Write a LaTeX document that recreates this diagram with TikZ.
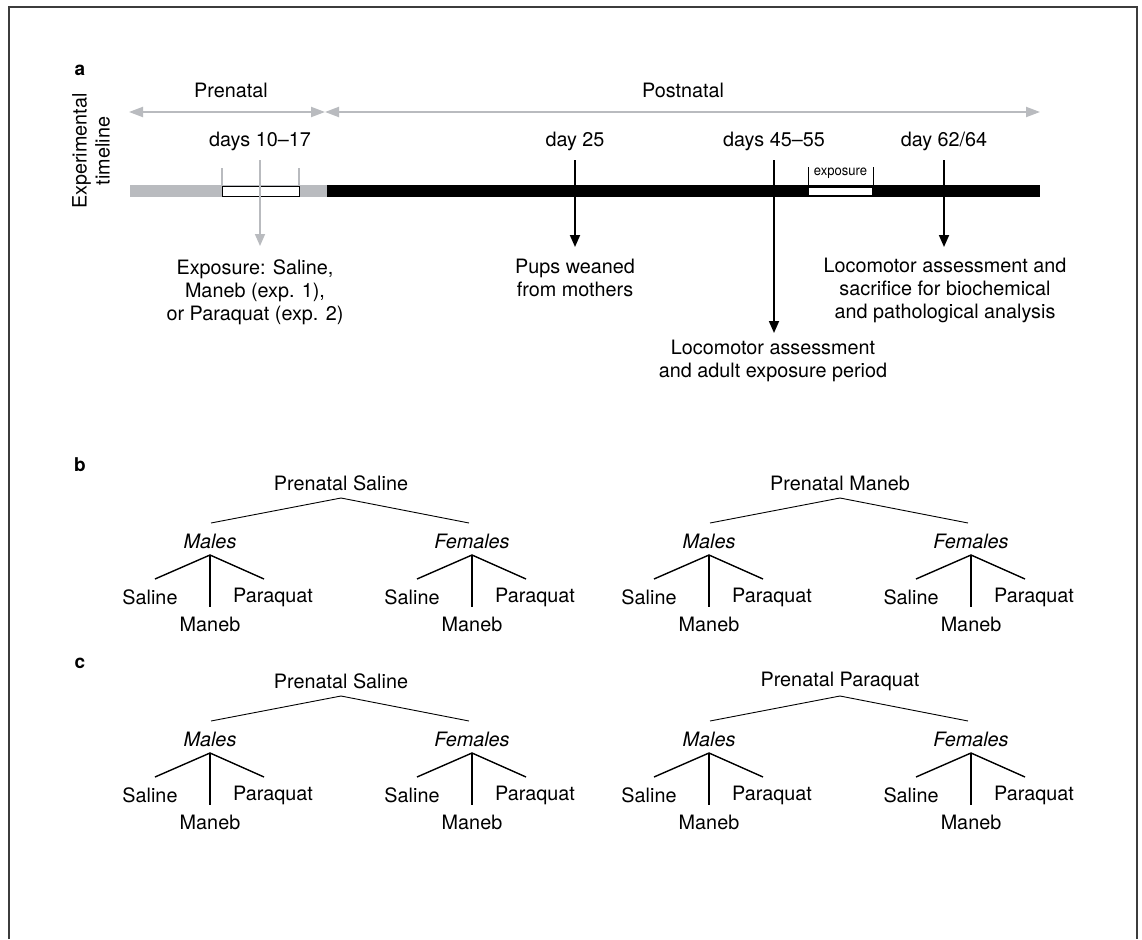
\documentclass[tikz,border=0pt]{standalone}
\usepackage{fontspec}
\setmainfont{TeX Gyre Heros}
\usetikzlibrary{arrows.meta}
\definecolor{tlgray}{RGB}{185,187,191}
\definecolor{framec}{RGB}{60,60,60}
\tikzset{
  txt/.style={inner sep=0pt, align=center, font=\fontsize{19.8}{23}\selectfont},
  itxt/.style={txt, font=\fontsize{19.8}{23}\selectfont\itshape},
  paneltag/.style={inner sep=0pt, font=\fontsize{19}{20}\selectfont\bfseries},
  smalltxt/.style={inner sep=0pt, font=\fontsize{14}{16}\selectfont, xscale=0.93},
  blkarrow/.style={draw=black, line width=1.8pt, -{Triangle[length=12pt,width=10pt]}},
  grayarrow/.style={draw=tlgray, line width=1.6pt, -{Triangle[length=12pt,width=10pt]}},
  grayboth/.style={draw=tlgray, line width=2pt, {Triangle[length=14pt,width=10pt]}-{Triangle[length=14pt,width=10pt]}},
  topline/.style={draw=black, line width=0.9pt},
  subline/.style={draw=black, line width=1.4pt},
  graytick/.style={draw=tlgray, line width=1.2pt},
  blktick/.style={draw=black, line width=1pt},
}
\newcommand{\gentree}[4]{%
  % #1 prefix, #2 x, #3 y, #4 title
  \begin{scope}[shift={(#2,#3)}]
    \node[txt] (#1top) at (0,0) {#4};
    \coordinate (#1apex) at (0,15);
    \coordinate (#1lend) at (-130,40);
    \coordinate (#1rend) at (128,40);
    \draw[topline] (#1lend) -- (#1apex) -- (#1rend);
    \foreach \side/\lab/\dx in {m/Males/-131, f/Females/131} {
      \node[itxt] (#1\side) at (\dx,58) {\lab};
      \coordinate (#1\side apex) at (\dx,72);
      \coordinate (#1\side l) at (\dx-55,96);
      \coordinate (#1\side r) at (\dx+54,96);
      \coordinate (#1\side v) at (\dx,124);
      \draw[subline] (#1\side l) -- (#1\side apex) -- (#1\side r);
      \draw[subline] (#1\side apex) -- (#1\side v);
      \node[txt] (#1\side sal) at (\dx-60,114) {Saline};
      \node[txt] (#1\side par) at (\dx+63,114) {Paraquat};
      \node[txt] (#1\side man) at (\dx,141) {Maneb};
    }
  \end{scope}%
}
\begin{document}
\begin{tikzpicture}[x=1pt,y=-1pt]
\useasboundingbox (0,0) rectangle (1142,939);
\fill[white] (0,0) rectangle (1142,939);
% frame
\draw[framec, line width=2pt] (9,939) -- (9,7) -- (1137,7) -- (1137,939);

% panel a
\node[paneltag] (taga) at (80,70) {a};
\node[txt, rotate=90] (exptl) at (91,151) {Experimental\\timeline};

\node[txt] (prenatal) at (231,90) {Prenatal};
\node[txt] (postnatal) at (683,90) {Postnatal};
\coordinate (preL) at (129,112);
\coordinate (midP) at (325,112);
\coordinate (postR) at (1040,112);
\draw[grayboth] (preL) -- (midP);
\draw[grayboth] (midP) -- (postR);

% bar
\fill[tlgray] (130,185) rectangle (327,197);
\fill[black] (327,185) rectangle (1040,197);
\draw[fill=white, draw=black, line width=0.9pt] (222,186) rectangle (299,196);
\fill[white] (809,187.5) rectangle (872,194.5);
\coordinate (pt1a) at (222,168); \coordinate (pt1b) at (222,185);
\coordinate (pt2a) at (299,168); \coordinate (pt2b) at (299,185);
\draw[graytick] (pt1a) -- (pt1b);
\draw[graytick] (pt2a) -- (pt2b);
\coordinate (et1a) at (808,167); \coordinate (et1b) at (808,186);
\coordinate (et2a) at (873,167); \coordinate (et2b) at (873,186);
\draw[blktick] (et1a) -- (et1b);
\draw[blktick] (et2a) -- (et2b);
\node[smalltxt] (expo) at (840.5,173) {exposure};

% day labels
\node[txt] (d1017) at (260,141) {days 10--17};
\node[txt] (d25) at (575,141) {day 25};
\node[txt] (d4555) at (774,141) {days 45--55};
\node[txt] (d6264) at (944,141) {day 62/64};

\coordinate (a1s) at (260,160); \coordinate (a1e) at (260,246);
\coordinate (a2s) at (575,160); \coordinate (a2e) at (575,247);
\coordinate (a3s) at (774,160); \coordinate (a3e) at (774,333);
\coordinate (a4s) at (944,160); \coordinate (a4e) at (944,247);
\draw[grayarrow] (a1s) -- (a1e);
\draw[blkarrow] (a2s) -- (a2e);
\draw[blkarrow] (a3s) -- (a3e);
\draw[blkarrow] (a4s) -- (a4e);

\node[txt] (expsal) at (255,292) {Exposure: Saline,\\Maneb (exp. 1),\\or Paraquat (exp. 2)};
\node[txt] (pups) at (575,278) {Pups weaned\\from mothers};
\node[txt] (locoa) at (945,290) {Locomotor assessment and\\sacrifice for biochemical\\and pathological analysis};
\node[txt] (locob) at (773,361) {Locomotor assessment\\and adult exposure period};

% panel b
\node[paneltag] (tagb) at (80,465) {b};
\gentree{bl}{341}{483}{Prenatal Saline}
\gentree{br}{840}{483}{Prenatal Maneb}

% panel c
\node[paneltag] (tagc) at (80,663) {c};
\gentree{cl}{341}{681}{Prenatal Saline}
\gentree{cr}{840}{681}{Prenatal Paraquat}
\end{tikzpicture}
\end{document}
